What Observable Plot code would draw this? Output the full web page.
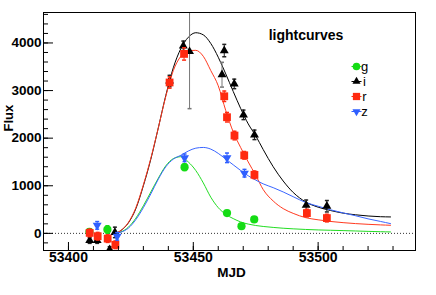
<!DOCTYPE html>
<html><head><meta charset="utf-8">
<script src="https://cdn.jsdelivr.net/npm/d3@7"></script>
<script src="https://cdn.jsdelivr.net/npm/@observablehq/plot@0.6"></script>
<style>body{margin:0;background:#fff} svg{display:block}</style>
</head><body><div id="chart"></div>
<script>
// ---- data ----
const bands = ["g", "i", "r", "z"];

const gMjd  = [53408.4, 53415.6, 53446.5, 53463.5, 53469.3, 53474.4];
const gFlux = [30, 80, 1390, 426, 150, 293];
const gErr  = [60, 80, 70, 30, 30, 30];

const iMjd  = [53408.5, 53411.5, 53416.5, 53418.6, 53440.5, 53446.0, 53448.5, 53461.5, 53462.4, 53466.4, 53470.1, 53474.5, 53495.2, 53503.5];
const iFlux = [-150, -150, -340, 20, 3200, 3940, 3820, 3333, 3840, 3140, 2490, 2070, 590, 570];
const iErr  = [60, 60, 60, 110, 120, 100, 1200, 260, 130, 100, 100, 100, 110, 120];

const rMjd  = [53408.5, 53411.7, 53415.7, 53418.8, 53440.5, 53446.3, 53462.4, 53463.5, 53466.5, 53470.4, 53474.5, 53495.5, 53503.5];
const rFlux = [10, -60, -110, -240, 3170, 3770, 2880, 2440, 2055, 1640, 1230, 426, 321];
const rErr  = [80, 80, 80, 80, 120, 130, 110, 100, 90, 80, 80, 80, 80];

const zMjd  = [53411.5, 53419.5, 53446.5, 53463.5, 53470.5];
const zFlux = [168, -63, 1587, 1587, 1264];
const zErr  = [80, 80, 80, 100, 80];

// fitted light curves
const curveMjd = [53419, 53421, 53424, 53427, 53430, 53433, 53436, 53439, 53442, 53445, 53448, 53451, 53454, 53457, 53460, 53463, 53466, 53469, 53472, 53475, 53478, 53482, 53486, 53490, 53495, 53500, 53505, 53510, 53515, 53520, 53525, 53529];
const gCurve = [0, 30, 130, 320, 580, 870, 1160, 1420, 1570, 1610, 1500, 1320, 1060, 760, 540, 400, 310, 240, 195, 165, 145, 125, 108, 95, 82, 72, 65, 58, 50, 42, 35, 30];
const iCurve = [0, 60, 220, 520, 1000, 1560, 2220, 2900, 3480, 3880, 4120, 4215, 4170, 3990, 3700, 3350, 2980, 2620, 2300, 2050, 1760, 1400, 1100, 860, 660, 550, 480, 425, 390, 365, 350, 345];
const rCurve = [0, 60, 230, 540, 1020, 1580, 2220, 2880, 3420, 3720, 3840, 3845, 3720, 3420, 3100, 2580, 2130, 1800, 1500, 1220, 920, 680, 520, 420, 330, 285, 250, 225, 205, 190, 178, 170];
const zCurve = [0, 25, 110, 290, 540, 830, 1140, 1400, 1560, 1640, 1730, 1790, 1805, 1770, 1680, 1560, 1440, 1320, 1210, 1120, 1040, 960, 870, 770, 650, 570, 495, 430, 370, 305, 250, 205];

const yMajor = [0, 1000, 2000, 3000, 4000];
const yMinor = d3.range(-200, 4601, 200);
const xMajor = [53400, 53450, 53500];
const xMinor = d3.range(53390, 53540, 10);

// ---- styling ----
const colors = {g: "#14dc14", i: "#000000", r: "#ff2a10", z: "#2f5fff"};
const curveColors = {g: "#22dd22", i: "#000000", r: "#ff3a20", z: "#3a66ff"};
const symbols = {g: "circle", i: "triangle", r: "square", z: "triangle"};
const d3symbols = {g: d3.symbolCircle, i: d3.symbolTriangle, r: d3.symbolSquare, z: d3.symbolTriangle};
const rotates = {g: 0, i: 0, r: 0, z: 180};
const sizes = {g: 4.1, i: 3.3, r: 4.4, z: 3.3};

const pts = {g: [gMjd, gFlux, gErr], i: [iMjd, iFlux, iErr], r: [rMjd, rFlux, rErr], z: [zMjd, zFlux, zErr]};
const curves = {g: gCurve, i: iCurve, r: rCurve, z: zCurve};

const capSymbol = {draw(ctx) { ctx.moveTo(-2, 0); ctx.lineTo(2, 0); }};

const marks = [];
marks.push(Plot.ruleY([0], {stroke: "#333", strokeDasharray: "1,2"}));

// curves
for (const b of bands) {
  const rows = curveMjd.map((m, k) => ({mjd: m, flux: curves[b][k]}));
  marks.push(Plot.line(rows, {x: "mjd", y: "flux", stroke: curveColors[b], strokeWidth: 1, curve: "monotone-x", clip: true}));
}
// points with error bars
for (const b of bands) {
  const [m, f, e] = pts[b];
  const rows = m.map((v, k) => ({mjd: v, flux: f[k], lo: f[k] - e[k], hi: f[k] + e[k], big: e[k] > 200}));
  const errStroke = b === "i" ? (d => d.big ? "#777" : "#222") : colors[b];
  marks.push(Plot.ruleX(rows, {x: "mjd", y1: "lo", y2: "hi", stroke: errStroke, strokeWidth: 1, clip: true}));
  marks.push(Plot.dot(rows, {x: "mjd", y: "lo", symbol: capSymbol, stroke: errStroke, fill: "none", clip: true}));
  marks.push(Plot.dot(rows, {x: "mjd", y: "hi", symbol: capSymbol, stroke: errStroke, fill: "none", clip: true}));
  marks.push(Plot.dot(rows, {x: "mjd", y: "flux", symbol: symbols[b], fill: colors[b], stroke: "none", r: sizes[b], rotate: rotates[b], clip: true}));
}

// axes (ticks inside the frame, ROOT style)
marks.push(Plot.axisY(yMinor, {anchor: "left", tickSize: -5, tickFormat: null, text: null, label: null, stroke: "#000"}));
marks.push(Plot.axisY(yMajor, {anchor: "left", tickSize: -10, tickPadding: 12, tickFormat: d => String(d), label: null, fontSize: 13.5, fontWeight: "bold", stroke: "#000"}));
marks.push(Plot.axisX(xMinor, {anchor: "bottom", tickSize: -4, text: null, tickFormat: null, label: null, stroke: "#000"}));
marks.push(Plot.axisX(xMajor, {anchor: "bottom", tickSize: -8, tickPadding: 10, tickFormat: d => String(d), label: null, fontSize: 14, fontWeight: "bold", stroke: "#000"}));
marks.push(Plot.frame({stroke: "#000"}));

// titles
marks.push(Plot.text(["Flux"], {frameAnchor: "left", rotate: -90, dx: -35, fontSize: 13, fontWeight: "bold", fill: "#000"}));
marks.push(Plot.text(["MJD"], {frameAnchor: "bottom", dx: 2, dy: 26, fontSize: 13.5, fontWeight: "bold", fill: "#000"}));
marks.push(Plot.text(["lightcurves"], {frameAnchor: "top-left", dx: 262.5, dy: 18, fontSize: 14, fontWeight: "bold", textAnchor: "middle", fill: "#000"}));

// legend (drawn directly)
marks.push(() => {
  const g = d3.create("svg:g");
  bands.forEach((b, k) => {
    const y = 66 + 15 * k, x = 356.5;
    g.append("line").attr("x1", x - 5).attr("x2", x + 5).attr("y1", y + 0.5).attr("y2", y + 0.5).attr("stroke", colors[b]);
    const area = Math.PI * (sizes[b] - 0.3) ** 2;
    g.append("path").attr("d", d3.symbol(d3symbols[b], area)())
      .attr("transform", `translate(${x},${y + 0.5}) rotate(${rotates[b]})`).attr("fill", colors[b]);
    g.append("text").attr("x", x + 8).attr("y", y + 5).attr("font-size", 13).attr("fill", "#000").text(b);
  });
  return g.node();
});

const chart = Plot.plot({
  width: 436, height: 295,
  marginLeft: 43, marginRight: 21, marginTop: 12, marginBottom: 45,
  style: {fontFamily: "'Liberation Sans', Arial, sans-serif", background: "#fff", color: "#000"},
  x: {domain: [53390, 53539], axis: null},
  y: {domain: [-360, 4640], axis: null},
  marks
});
document.getElementById("chart").append(chart);
</script>
</body></html>
